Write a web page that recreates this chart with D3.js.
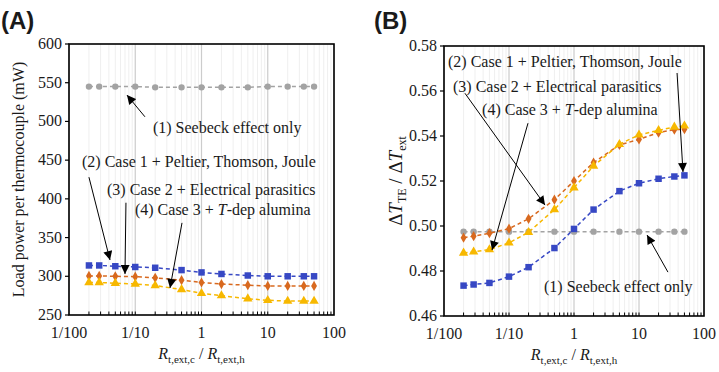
<!DOCTYPE html>
<html>
<head>
<meta charset="utf-8">
<script src="https://cdn.jsdelivr.net/npm/d3@7"></script>
<style>
  body { margin: 0; background: #fff; }
  svg { display: block; }
  text { font-family: "Liberation Serif", "Times New Roman", serif; fill: #1a1a1a; }
</style>
</head>
<body>
<svg id="chart" width="719" height="372"></svg>
<script>
// x values shared by both panels: R_t,ext,c / R_t,ext,h
var ratios = [1/50, 1/35, 1/20, 1/10, 1/5, 1/2, 1, 2, 5, 10, 20, 35, 50];
var xTickVals = [0.01, 0.1, 1, 10, 100];
var xTickLabels = ["1/100", "1/10", "1", "10", "100"];

// (A) load power per thermocouple, mW
var powerCase1 = [545, 545, 545, 545, 544, 544, 544, 544, 544, 545, 545, 545, 545];
var powerCase2 = [314, 314, 313, 312, 311, 308, 305, 303, 301, 300, 300, 300, 300];
var powerCase3 = [300.5, 300.5, 300, 299.5, 298, 295, 292, 290, 288.5, 287.5, 287.5, 287.5, 287.5];
var powerCase4 = [292, 292, 291, 290, 288, 283, 278, 275, 271, 269, 268, 268, 268];
var powerTicks = [250, 300, 350, 400, 450, 500, 550, 600];

// (B) dT_TE / dT_ext
var dtCase1 = [0.4975, 0.4975, 0.4975, 0.4975, 0.4975, 0.4975, 0.4975, 0.4975, 0.4975, 0.4975, 0.4975, 0.4975, 0.4975];
var dtCase2 = [0.4735, 0.474, 0.4747, 0.4775, 0.4817, 0.4902, 0.4987, 0.5073, 0.5155, 0.519, 0.521, 0.522, 0.5225];
var dtCase3 = [0.4948, 0.4955, 0.4968, 0.4988, 0.5032, 0.5117, 0.52, 0.5282, 0.536, 0.5385, 0.5415, 0.5428, 0.543];
var dtCase4 = [0.488, 0.4885, 0.4895, 0.4925, 0.4972, 0.5073, 0.517, 0.5267, 0.5363, 0.5405, 0.5425, 0.544, 0.5445];
var dtTicks = [0.46, 0.48, 0.50, 0.52, 0.54, 0.56, 0.58];

var caseLabels = ["(1) Seebeck effect only", "(2) Case 1 + Peltier, Thomson, Joule",
                  "(3) Case 2 + Electrical parasitics", "(4) Case 3 + T-dep alumina"];

// annotations in data units: [text x, text y, tail x, tail y, head x, head y]
var notesA = [
  [0.185, 485, 0.140, 506, 0.075, 534],
  [0.0157, 441, 0.020, 428, 0.0416, 321],
  [0.0375, 405, 0.0724, 395, 0.070, 303],
  [0.099, 379, 0.508, 369, 0.335, 285]
];
var notesB = [
  [0.3455, 0.4707, 27.9, 0.4795, 13.3, 0.496],
  [0.01153, 0.5707, 38.5, 0.568, 47.5, 0.524],
  [0.01375, 0.5595, 0.021, 0.559, 0.358, 0.5093],
  [0.0385, 0.5493, 0.196, 0.5457, 0.0548, 0.4893]
];

var colors = ["#a3a3a3", "#3748c4", "#d8691f", "#f7b800"];
var symbols = [d3.symbolCircle, d3.symbolSquare, d3.symbolDiamond, d3.symbolTriangle];
var symSizes = [32, 42, 30, 38];

var svg = d3.select("#chart");

svg.append("defs").append("marker")
    .attr("id", "arrow")
    .attr("viewBox", "0 0 10 10")
    .attr("refX", 10).attr("refY", 5)
    .attr("markerWidth", 11).attr("markerHeight", 9)
    .attr("markerUnits", "userSpaceOnUse")
    .attr("orient", "auto")
  .append("path")
    .attr("d", "M0,0L10,5L0,10z")
    .attr("fill", "#000");

function panel(opt) {
  var x = d3.scaleLog().domain([0.01, 100]).range([opt.left, opt.right]);
  var y = d3.scaleLinear().domain(opt.yDomain).range([opt.bottom, opt.top]);
  var g = svg.append("g");

  // vertical gridlines at every log tick
  var minor = x.ticks();
  g.selectAll("line.grid").data(minor).enter().append("line")
      .attr("x1", d => x(d)).attr("x2", d => x(d))
      .attr("y1", opt.top).attr("y2", opt.bottom)
      .attr("stroke", d => xTickVals.indexOf(d) >= 0 ? "#cccccc" : "#efefef")
      .attr("stroke-width", d => xTickVals.indexOf(d) >= 0 ? 1.2 : 1);

  // inner minor ticks on the bottom axis
  g.selectAll("line.mt").data(minor.filter(d => d > 0.01 && d < 100)).enter().append("line")
      .attr("x1", d => x(d)).attr("x2", d => x(d))
      .attr("y1", opt.bottom).attr("y2", opt.bottom - 3.5)
      .attr("stroke", "#000").attr("stroke-width", 1);

  // y ticks + labels
  g.selectAll("line.yt").data(opt.yTicks).enter().append("line")
      .attr("x1", opt.left - 4).attr("x2", opt.left)
      .attr("y1", d => y(d)).attr("y2", d => y(d))
      .attr("stroke", "#000").attr("stroke-width", 1.2);
  g.selectAll("text.yl").data(opt.yTicks).enter().append("text")
      .attr("x", opt.left - 7).attr("y", d => y(d) + 5)
      .attr("text-anchor", "end").attr("font-size", 16)
      .text(opt.yFormat);

  // x labels
  g.selectAll("text.xl").data(xTickVals).enter().append("text")
      .attr("x", d => x(d)).attr("y", opt.bottom + 23)
      .attr("text-anchor", "middle").attr("font-size", 16)
      .text((d, i) => xTickLabels[i]);

  // series
  opt.series.forEach(function(vals, i) {
    var pts = ratios.map((r, j) => [x(r), y(vals[j])]);
    g.append("path")
        .attr("d", d3.line()(pts))
        .attr("fill", "none").attr("stroke", colors[i])
        .attr("stroke-width", 1.5).attr("stroke-dasharray", "4,3");
    g.selectAll(null).data(pts).enter().append("path")
        .attr("transform", d => "translate(" + d[0] + "," + d[1] + ")")
        .attr("d", d3.symbol().type(symbols[i]).size(symSizes[i]))
        .attr("fill", colors[i]);
  });

  // frame
  g.append("rect")
      .attr("x", opt.left).attr("y", opt.top)
      .attr("width", opt.right - opt.left).attr("height", opt.bottom - opt.top)
      .attr("fill", "none").attr("stroke", "#000").attr("stroke-width", 1.6);

  // annotations
  opt.notes.forEach(function(n, i) {
    g.append("line")
        .attr("x1", x(n[2])).attr("y1", y(n[3]))
        .attr("x2", x(n[4])).attr("y2", y(n[5]))
        .attr("stroke", "#000").attr("stroke-width", 1)
        .attr("marker-end", "url(#arrow)");
    var t = g.append("text").attr("x", x(n[0])).attr("y", y(n[1])).attr("font-size", 16);
    if (i === 3) {
      t.append("tspan").text("(4) Case 3 + ");
      t.append("tspan").attr("font-style", "italic").text("T");
      t.append("tspan").text("-dep alumina");
    } else {
      t.text(caseLabels[i]);
    }
  });

  // x title
  var xt = g.append("text")
      .attr("x", (opt.left + opt.right) / 2).attr("y", opt.bottom + 44)
      .attr("text-anchor", "middle").attr("font-size", 16);
  xt.append("tspan").attr("font-style", "italic").text("R");
  xt.append("tspan").attr("font-size", 11).attr("dy", 4).text("t,ext,c");
  xt.append("tspan").attr("dy", -4).text(" / ");
  xt.append("tspan").attr("font-style", "italic").text("R");
  xt.append("tspan").attr("font-size", 11).attr("dy", 4).text("t,ext,h");

  // y title
  var yt = g.append("text")
      .attr("transform", "translate(" + opt.yTitleX + "," + ((opt.top + opt.bottom) / 2) + ") rotate(-90)")
      .attr("text-anchor", "middle").attr("font-size", opt.yTitleSize);
  opt.yTitle(yt);

  // panel letter
  svg.append("text")
      .attr("x", opt.letterX).attr("y", 29)
      .style("font-family", "'Liberation Sans', Arial, sans-serif")
      .attr("font-weight", "bold").attr("font-size", 24)
      .attr("fill", "#000")
      .text(opt.letter);
}

panel({
  left: 69, right: 334, top: 44, bottom: 315,
  yDomain: [250, 600], yTicks: powerTicks, yFormat: d => d,
  series: [powerCase1, powerCase2, powerCase3, powerCase4],
  notes: notesA, yTitleX: 24, yTitleSize: 16, letter: "(A)", letterX: 1,
  yTitle: function(t) { t.text("Load power per thermocouple (mW)"); }
});

panel({
  left: 444, right: 704, top: 46, bottom: 316,
  yDomain: [0.46, 0.58], yTicks: dtTicks, yFormat: d3.format(".2f"),
  series: [dtCase1, dtCase2, dtCase3, dtCase4],
  notes: notesB, yTitleX: 402, yTitleSize: 19, letter: "(B)", letterX: 374,
  yTitle: function(t) {
    t.append("tspan").text("\u0394");
    t.append("tspan").attr("font-style", "italic").text("T");
    t.append("tspan").attr("font-size", 12).attr("dy", 4).text("TE");
    t.append("tspan").attr("dy", -4).text(" / \u0394");
    t.append("tspan").attr("font-style", "italic").text("T");
    t.append("tspan").attr("font-size", 12).attr("dy", 4).text("ext");
  }
});
</script>
</body>
</html>
